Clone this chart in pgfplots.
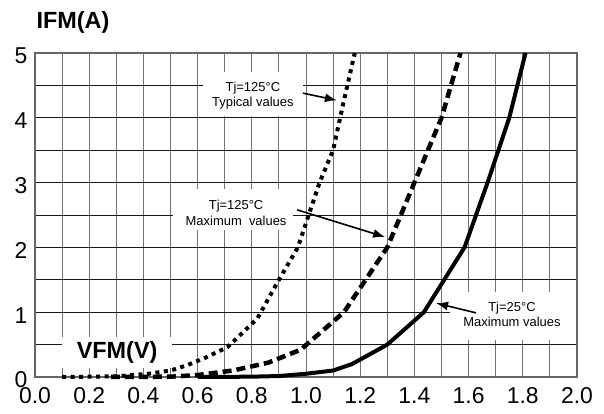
\documentclass[border=0pt]{standalone}
\usepackage{pgfplots}
\pgfplotsset{compat=1.18}
\usetikzlibrary{arrows.meta}
\usepackage{fontspec}
\setmainfont{Liberation Sans}
\begin{document}
\begin{tikzpicture}
\useasboundingbox (-35bp,-37bp) rectangle (569bp,377bp);
\begin{axis}[
  scale only axis, width=542bp, height=324bp,
  xmin=0, xmax=2, ymin=0, ymax=5,
  clip=false,
  xtick={0,0.2,...,2.01}, minor xtick={0.1,0.3,...,1.91},
  ytick={0,1,2,3,4,5}, minor ytick={0.5,1.5,2.5,3.5,4.5},
  major tick length=0pt, minor tick length=0pt,
  xmajorgrids, xminorgrids, ymajorgrids, yminorgrids,
  x grid style={black!55, line width=0.9bp},
  y grid style={black!90, line width=0.9bp},
  axis line style={black!60, line width=1.1bp},
  tick label style={font=\fontsize{23}{23}\selectfont},
  yticklabel style={yshift=-3bp, xshift=-4bp},
  xticklabel style={yshift=-7bp, /pgf/number format/.cd, fixed, fixed zerofill, precision=1},
  /pgf/number format/assume math mode=true,
]
% Tj=125 typical (dotted)
\addplot[black, line width=4bp, dash pattern=on 4bp off 4.5bp] coordinates {
 (0.1,0) (0.3,0.01) (0.42,0.05) (0.5,0.1) (0.56,0.18) (0.63,0.3) (0.71,0.46)
 (0.82,0.9) (0.9,1.5) (0.97,2) (1.05,3) (1.1,3.5) (1.14,4.27) (1.18,5)};
% Tj=125 maximum (dashed)
\addplot[black, line width=4.5bp, dash pattern=on 9bp off 5bp] coordinates {
 (0.28,0) (0.5,0.005) (0.6,0.03) (0.73,0.1) (0.86,0.22) (0.98,0.42)
 (1.14,1.0) (1.3,2) (1.4,3) (1.5,4) (1.57,5)};
% Tj=25 maximum (solid)
\addplot[black, line width=4bp] coordinates {
 (0.6,0) (0.8,0.005) (0.9,0.015) (1.0,0.05) (1.1,0.1) (1.17,0.2) (1.3,0.5)
 (1.435,1) (1.585,2) (1.67,3) (1.75,4) (1.81,5)};
% annotation boxes
\fill[white] (axis cs:0.62,4.03) rectangle (axis cs:0.989,4.71);
\fill[white] (axis cs:0.509,2.27) rectangle (axis cs:0.952,2.90);
\fill[white] (axis cs:1.531,0.57) rectangle (axis cs:1.998,1.31);
\fill[white] (axis cs:0.10,0.14) rectangle (axis cs:0.505,0.62);
\node[align=center, font=\fontsize{13}{15.5}\selectfont, inner sep=0pt] at (axis cs:0.804,4.34) {Tj=125°C\\Typical values};
\node[align=center, font=\fontsize{13}{15.5}\selectfont, inner sep=0pt] at (axis cs:0.742,2.53) {Tj=125°C\\Maximum\ \ values};
\node[align=center, font=\fontsize{13}{15.5}\selectfont, inner sep=0pt] at (axis cs:1.760,0.97) {Tj=25°C\\Maximum values};
\draw[black, line width=1.6bp, -{Latex[length=12bp,width=9bp]}] (axis cs:0.989,4.38) -- (axis cs:1.114,4.27);
\draw[black, line width=1.6bp, -{Latex[length=12bp,width=9bp]}] (axis cs:0.967,2.58) -- (axis cs:1.292,2.16);
\draw[black, line width=1.6bp, -{Latex[length=12bp,width=9bp]}] (axis cs:1.627,0.99) -- (axis cs:1.480,1.14);
\node[font=\fontsize{23.5}{24}\bfseries, inner sep=0pt] at (axis cs:0.303,0.386) {VFM(V)};
\node[font=\fontsize{23.5}{24}\bfseries, inner sep=0pt] at (axis cs:0.140,5.478) {IFM(A)};
\end{axis}
\end{tikzpicture}
\end{document}
